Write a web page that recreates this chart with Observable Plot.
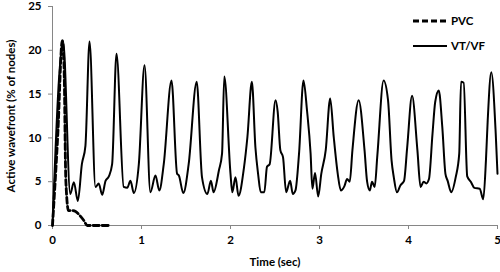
<!DOCTYPE html>
<html><head><meta charset="utf-8">
<script src="https://cdn.jsdelivr.net/npm/d3@7"></script>
<script src="https://cdn.jsdelivr.net/npm/@observablehq/plot@0.6"></script>
<style>
body{margin:0;background:#fff;}
#wrap{position:relative;width:500px;height:272px;font-family:Lato,"Open Sans",sans-serif;}
#legend{position:absolute;left:413px;top:8px;font:bold 11.5px Lato,sans-serif;}
#legend div{display:flex;align-items:center;height:25px;}
#legend span{margin-left:4px;}
</style></head>
<body><div id="wrap"><div id="legend"></div></div>
<script>
const seriesNames = ["PVC", "VT/VF"];
const pvcTime  = [0, 0.06, 0.11, 0.13, 0.15, 0.18, 0.22, 0.26, 0.31, 0.35, 0.39, 0.50, 0.63];
const pvcValue = [0, 10.5, 21.1, 18.0, 5.1, 1.7, 1.7, 1.6, 1.1, 0.6, 0, 0, 0];
const vtTime = [0,0.12,0.2,0.24,0.285,0.33,0.37,0.416,0.483,0.52,0.558,0.596,0.633,0.67,0.719,0.80,0.84,0.876,0.914,0.97,1.034,1.10,1.157,1.20,1.25,1.337,1.40,1.42,1.47,1.53,1.62,1.68,1.74,1.78,1.81,1.87,1.905,1.93,2.0,2.02,2.056,2.09,2.15,2.19,2.24,2.28,2.31,2.34,2.38,2.41,2.44,2.506,2.53,2.56,2.59,2.625,2.67,2.70,2.73,2.77,2.82,2.86,2.90,2.92,2.95,2.985,3.02,3.07,3.12,3.16,3.205,3.24,3.28,3.31,3.34,3.37,3.44,3.506,3.535,3.565,3.59,3.62,3.65,3.72,3.77,3.81,3.835,3.87,3.91,3.95,3.985,4.04,4.10,4.135,4.17,4.20,4.23,4.27,4.30,4.34,4.38,4.415,4.44,4.48,4.53,4.57,4.59,4.62,4.66,4.70,4.74,4.80,4.84,4.87,4.89,4.93,4.98,5.0];
const vtValue = [0,21.0,3.6,4.95,2.8,7.0,9.1,21.0,4.4,4.8,3.5,5.1,5.6,7.0,19.6,4.4,4.3,5.1,3.7,7.0,18.3,3.8,5.7,4.0,7.0,16.55,5.9,5.7,3.7,7.0,16.4,5.5,3.6,5.1,3.8,6.3,8.2,17.0,5.9,3.8,5.5,3.4,6.5,10.1,16.4,8.9,5.9,3.8,3.8,6.7,7.0,14.3,13.0,8.6,7.8,3.8,5.1,3.6,4.0,8.2,16.55,13.1,8.2,4.2,6.0,3.3,5.9,8.6,14.5,10.1,5.9,4.0,4.5,5.3,5.0,8.6,14.3,8.6,5.0,4.0,5.0,4.4,8.0,16.55,14.3,7.4,5.5,3.8,4.6,5.1,8.9,14.8,8.6,4.4,5.0,4.8,5.3,10.5,14.1,15.4,11.2,5.9,5.1,3.8,5.5,8.2,16.4,16.3,5.6,5.0,4.3,4.2,3.0,7.4,12.0,17.5,10.5,5.9];
const xTicks = [0,1,2,3,4,5];
const yTicks = [0,5,10,15,20,25];

const pvc = pvcTime.map((t,i)=>({t, v:pvcValue[i]}));
const vt = vtTime.map((t,i)=>({t, v:vtValue[i]}));
const axisColor = "#868686";

const chart = Plot.plot({
  width: 500, height: 272,
  marginLeft: 52, marginRight: 3, marginTop: 6, marginBottom: 47,
  style: {fontFamily: "Lato, 'Open Sans', sans-serif", fontSize: "11.5px", fontWeight: "bold", color: "#000", background: "#fff"},
  x: {domain: [0,5]},
  y: {domain: [0,25]},
  marks: [
    Plot.ruleY([0], {stroke: axisColor}),
    Plot.ruleX([0], {stroke: axisColor}),
    Plot.axisX({ticks: xTicks, tickFormat: "d", tickSize: 4, stroke: axisColor, tickPadding: 6, label: "Time (sec)", labelAnchor: "center", labelArrow: "none", labelOffset: 40, fill: "#000", fontSize: 11.5}),
    Plot.axisY({ticks: yTicks, tickFormat: "d", tickSize: 4, stroke: axisColor, tickPadding: 7, label: "Active wavefront (% of nodes)", labelAnchor: "center", labelArrow: "none", labelOffset: 46, fill: "#000", fontSize: 11.5}),
    Plot.line(vt, {x: "t", y: "v", stroke: "#000", strokeWidth: 2, curve: "monotone-x"}),
    Plot.line(pvc, {x: "t", y: "v", stroke: "#000", strokeWidth: 2.8, strokeDasharray: "6,3", curve: "monotone-x"})
  ]
});
document.getElementById("wrap").prepend(chart);

const lg = document.getElementById("legend");
seriesNames.forEach((name, i) => {
  const row = document.createElement("div");
  row.innerHTML = `<svg width="34" height="6"><line x1="0" x2="34" y1="3" y2="3" stroke="#000" stroke-width="${i===0?2.8:2}" ${i===0?'stroke-dasharray="6,3"':''}/></svg><span>${name}</span>`;
  lg.appendChild(row);
});
</script></body></html>
